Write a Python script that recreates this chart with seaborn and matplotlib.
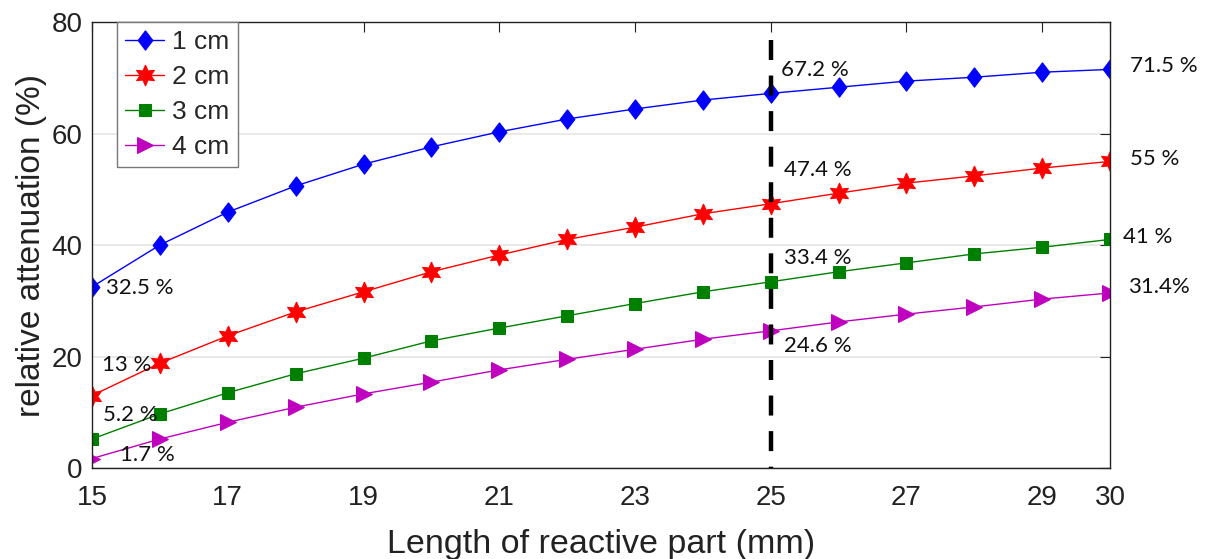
import numpy as np
import pandas as pd
import matplotlib
matplotlib.use("Agg")
import matplotlib.pyplot as plt
import seaborn as sns

length_mm = [15, 16, 17, 18, 19, 20, 21, 22, 23, 24, 25, 26, 27, 28, 29, 30]
att_1cm = [32.5, 40.0, 45.9, 50.6, 54.5, 57.6, 60.3, 62.6, 64.4, 66.0, 67.2, 68.3, 69.4, 70.1, 71.0, 71.5]
att_2cm = [13.0, 18.8, 23.7, 28.0, 31.6, 35.2, 38.2, 41.0, 43.2, 45.6, 47.4, 49.3, 51.1, 52.4, 53.8, 55.0]
att_3cm = [5.2, 9.7, 13.5, 16.9, 19.7, 22.8, 25.1, 27.3, 29.5, 31.6, 33.4, 35.2, 36.8, 38.4, 39.6, 41.0]
att_4cm = [1.7, 5.2, 8.2, 10.9, 13.3, 15.4, 17.6, 19.5, 21.3, 23.1, 24.6, 26.2, 27.6, 28.9, 30.3, 31.4]
series_labels = ["1 cm", "2 cm", "3 cm", "4 cm"]
x_ticks = [15, 17, 19, 21, 23, 25, 27, 29, 30]
y_ticks = [0, 20, 40, 60, 80]

# annotations: (text, x, y)
ann_texts = ["32.5 %", "13 %", "5.2 %", "1.7 %",
             "67.2 %", "47.4 %", "33.4 %", "24.6 %",
             "71.5 %", "55 %", "41 %", "31.4%"]
ann_x = [15.21, 15.15, 15.16, 15.41, 25.15, 25.2, 25.2, 25.2, 30.29, 30.29, 30.19, 30.26]
ann_y = [32.3, 18.5, 9.5, 2.3, 71.4, 53.5, 37.7, 21.9, 72.1, 55.4, 41.4, 32.5]

sns.set_style("white")
plt.rcParams['font.family'] = ['Liberation Sans', 'DejaVu Sans']

fig = plt.figure(figsize=(12.08, 5.59), dpi=100)
ax = fig.add_axes([0.0762, 0.1628, 0.9189 - 0.0762, 0.9606 - 0.1628])

diamond = [(0, 1), (0.76, 0), (0, -1), (-0.76, 0), (0, 1)]
colors = ["#0000ff", "#ff0000", "#008000", "#bf00bf"]
markers = [diamond, (6, 1, 0), "s", ">"]
msizes = [14, 15, 8, 11]
data = [att_1cm, att_2cm, att_3cm, att_4cm]

for vals, lab, c, m, ms in zip(data, series_labels, colors, markers, msizes):
    df = pd.DataFrame({"x": length_mm, "y": vals})
    sns.lineplot(data=df, x="x", y="y", ax=ax, color=c, marker=m, markersize=ms,
                 markeredgecolor=c, markerfacecolor=c, linewidth=1.0, label=lab)

# dashed marker line at 25 mm, drawn top-down so the pattern starts with a dash at the top
ax.plot([25, 25], [76.8, 0], color="black", linestyle=(0, (4.5, 3.5)), linewidth=3.2, zorder=5)

for t, xx, yy in zip(ann_texts, ann_x, ann_y):
    ax.text(xx, yy, t, ha="left", va="center", fontsize=16,
            family=["Lato", "DejaVu Sans"], color="#111111", clip_on=False)

ax.set_xlim(15, 30)
ax.set_ylim(0, 80)
ax.set_xticks(x_ticks)
ax.set_yticks(y_ticks)
ax.grid(axis="y", color="#e6e6e6", linewidth=1.2)
ax.grid(axis="x", visible=False)
ax.tick_params(direction="in", length=7.5, width=0.8, top=True, right=True,
               labelsize=20, colors="#222222")
ax.tick_params(axis="x", pad=12)
ax.tick_params(axis="y", pad=7)
for s in ax.spines.values():
    s.set_color("#222222")
    s.set_linewidth(1.0)
ax.set_xlabel("Length of reactive part (mm)", fontsize=24.5, color="#222222", labelpad=13)
ax.set_ylabel("relative attenuation (%)", fontsize=24, color="#222222", labelpad=3)

leg = ax.legend(loc="upper left", bbox_to_anchor=(0.0245, 1.0), fontsize=19,
                frameon=True, fancybox=False, edgecolor="#777777", framealpha=1,
                borderpad=0.3, labelspacing=0.42, handlelength=1.5, handletextpad=0.3,
                borderaxespad=0)
leg.get_frame().set_linewidth(1.0)

fig.savefig("out.png", dpi=100)
